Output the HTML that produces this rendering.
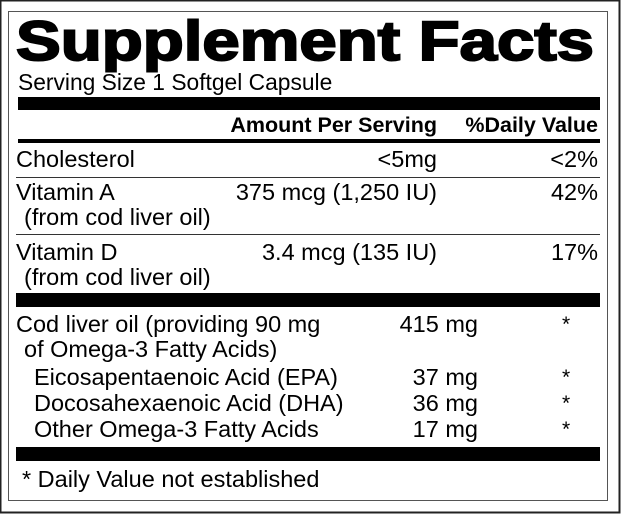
<!DOCTYPE html>
<html><head><meta charset="utf-8"><style>
html,body{margin:0;padding:0;background:#fff}
svg{display:block}
text{font-family:"Liberation Sans",Arial,sans-serif;fill:#000}
</style></head><body>
<svg width="621" height="514" viewBox="0 0 621 514" xmlns="http://www.w3.org/2000/svg">
<rect x="0.5" y="0.5" width="619" height="512" fill="#fff" stroke="#222" stroke-width="2"/>
<rect x="8.5" y="11.5" width="599" height="489" fill="#fff" stroke="#555" stroke-width="1"/>
<text x="16" y="60" font-size="56" font-weight="bold" textLength="578" lengthAdjust="spacingAndGlyphs" stroke="#000" stroke-width="2">Supplement Facts</text>
<text x="18" y="90" font-size="22.8">Serving Size 1 Softgel Capsule</text>
<rect x="18" y="97" width="582" height="13"/>
<text x="437" y="132" font-size="21.5" font-weight="bold" text-anchor="end">Amount Per Serving</text>
<text x="598" y="132" font-size="21.5" font-weight="bold" text-anchor="end">%Daily Value</text>
<rect x="18" y="139" width="582" height="4"/>
<g font-size="23.5">
<text x="16" y="167">Cholesterol</text>
<text x="437" y="167" text-anchor="end">&lt;5mg</text>
<text x="598" y="167" text-anchor="end">&lt;2%</text>
</g>
<rect x="16" y="177" width="584" height="1" fill="#333"/>
<g font-size="23.5">
<text x="16" y="200">Vitamin A</text>
<text x="437" y="200" text-anchor="end">375 mcg (1,250 IU)</text>
<text x="598" y="200" text-anchor="end">42%</text>
<text x="24" y="225">(from cod liver oil)</text>
</g>
<rect x="16" y="234" width="584" height="1" fill="#333"/>
<g font-size="23.5">
<text x="16" y="260">Vitamin D</text>
<text x="437" y="260" text-anchor="end">3.4 mcg (135 IU)</text>
<text x="598" y="260" text-anchor="end">17%</text>
<text x="24" y="285">(from cod liver oil)</text>
</g>
<rect x="16" y="293" width="584" height="14"/>
<g font-size="23.5">
<text x="16" y="332">Cod liver oil (providing 90 mg</text>
<text x="478" y="332" text-anchor="end">415 mg</text>
<text x="562" y="331" font-size="21">*</text>
<text x="24" y="357">of Omega-3 Fatty Acids)</text>
<text x="34" y="385">Eicosapentaenoic Acid (EPA)</text>
<text x="478" y="385" text-anchor="end">37 mg</text>
<text x="562" y="384" font-size="21">*</text>
<text x="34" y="411">Docosahexaenoic Acid (DHA)</text>
<text x="478" y="411" text-anchor="end">36 mg</text>
<text x="562" y="410" font-size="21">*</text>
<text x="34" y="437">Other Omega-3 Fatty Acids</text>
<text x="478" y="437" text-anchor="end">17 mg</text>
<text x="562" y="436" font-size="21">*</text>
</g>
<rect x="16" y="447" width="584" height="14"/>
<text x="22" y="487" font-size="23.5">* Daily Value not established</text>
</svg>
</body></html>
